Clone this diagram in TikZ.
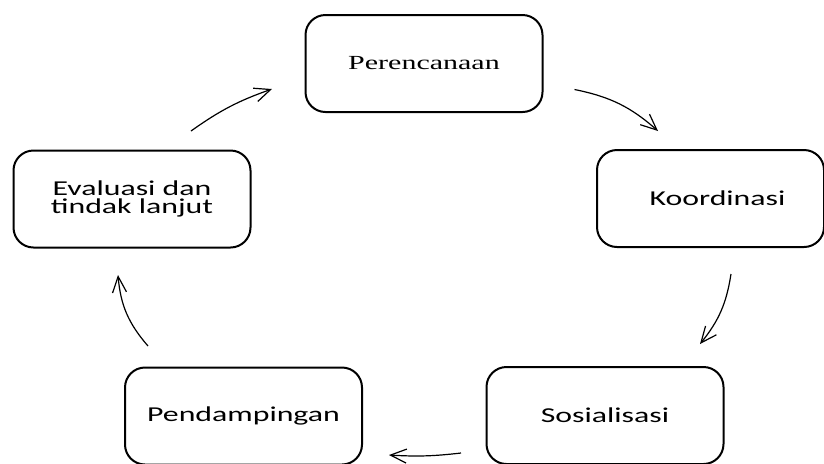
\documentclass[tikz,border=0pt]{standalone}
\usepackage{fontspec}
\newfontfamily\boxfont[FakeStretch=1.5]{Carlito}
\newfontfamily\headfont[FakeStretch=1.5]{Liberation Serif}
\usepackage{tikz}
\usetikzlibrary{calc,arrows.meta}

\begin{document}
\begin{tikzpicture}[x=0.5pt, y=-0.5pt,
    stage/.style={draw, line width=1pt, rounded corners=10pt,
        minimum width=118.5pt, minimum height=48.5pt, align=center,
        font=\boxfont\fontsize{10.6}{9.3}\selectfont},
    flow/.style={-{Straight Barb[length=8pt,width=7pt]}, line width=0.6pt}]

\useasboundingbox (0,0) rectangle (824,463);
\clip (0,0) rectangle (824,463);

% the five stages, clockwise from the top
\node[stage, font=\headfont\fontsize{10}{12}\selectfont] (plan) at (424,63.5) {Perencanaan};
\node[stage, minimum width=113.5pt] (koord) at (710.5,198.5) {\hspace*{7pt}Koordinasi};
\node[stage] (sosial) at (605,415.5) {Sosialisasi};
\node[stage] (pendamp) at (243.5,416) {Pendampingan};
\node[stage] (eval) at (132,199) {Evaluasi dan\\tindak lanjut};

% arrow ends, placed off the boxes
\coordinate (a1) at ($(plan.east)+(31,26)$);
\coordinate (b1) at ($(koord.north)+(-52.5,-18)$);
\coordinate (a2) at ($(koord.south)+(20.5,26)$);
\coordinate (b2) at ($(sosial.north east)+(-24.5,-22)$);
\coordinate (a3) at ($(sosial.west)+(-24.5,37.5)$);
\coordinate (b3) at ($(pendamp.east)+(26,39)$);
\coordinate (a4) at ($(pendamp.north west)+(24,-20.5)$);
\coordinate (b4) at ($(eval.south)+(-14,26.5)$);
\coordinate (a5) at ($(eval.north)+(59,-18.5)$);
\coordinate (b5) at ($(plan.west)+(-32.5,25.5)$);

% the cycle
\draw[flow] (a1) to[bend left=15] (b1);
\draw[flow] (a2) to[bend left=15] (b2);
\draw[flow] (a3) to[bend left=5] (b3);
\draw[flow] (a4) to[bend left=18] (b4);
\draw[flow] (a5) to[bend left=8] (b5);
\end{tikzpicture}
\end{document}
